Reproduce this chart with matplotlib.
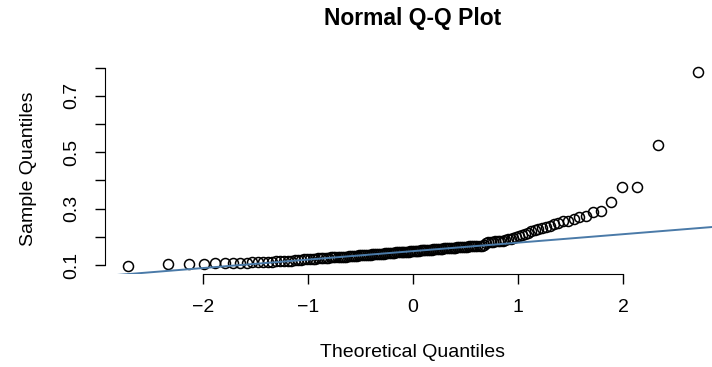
import numpy as np
import matplotlib
matplotlib.use('Agg')
import matplotlib.pyplot as plt
from statistics import NormalDist

plt.rcParams['font.family'] = ['Liberation Sans', 'DejaVu Sans']

# sorted sample values (150 points)
sample = [
    0.096, 0.103, 0.104, 0.105, 0.106, 0.107, 0.108, 0.108, 0.109, 0.110,
    0.110, 0.111, 0.112, 0.112, 0.113, 0.114, 0.114, 0.115, 0.116, 0.117,
    0.118, 0.119, 0.120, 0.121, 0.122, 0.123, 0.123, 0.124, 0.125, 0.125,
    0.126, 0.126, 0.127, 0.127, 0.128, 0.128, 0.129, 0.129, 0.130, 0.130,
    0.131, 0.131, 0.132, 0.133, 0.133, 0.134, 0.134, 0.135, 0.136, 0.136,
    0.137, 0.137, 0.138, 0.138, 0.139, 0.139, 0.140, 0.141, 0.141, 0.142,
    0.142, 0.143, 0.143, 0.144, 0.144, 0.145, 0.145, 0.146, 0.146, 0.147,
    0.147, 0.148, 0.148, 0.149, 0.149, 0.150, 0.150, 0.151, 0.151, 0.152,
    0.152, 0.153, 0.153, 0.154, 0.155, 0.155, 0.156, 0.156, 0.157, 0.157,
    0.158, 0.158, 0.159, 0.159, 0.160, 0.161, 0.161, 0.162, 0.162, 0.163,
    0.163, 0.164, 0.164, 0.165, 0.165, 0.166, 0.166, 0.167, 0.167, 0.168,
    0.168, 0.169, 0.170, 0.180, 0.181, 0.182, 0.183, 0.184, 0.185, 0.186,
    0.187, 0.189, 0.191, 0.193, 0.196, 0.199, 0.203, 0.206, 0.210, 0.215,
    0.220, 0.224, 0.228, 0.232, 0.236, 0.240, 0.245, 0.250, 0.255, 0.258,
    0.265, 0.270, 0.275, 0.288, 0.290, 0.323, 0.376, 0.376, 0.524, 0.785,
]
xticks = [-2, -1, 0, 1, 2]
yticks = [0.1, 0.2, 0.3, 0.4, 0.5, 0.6, 0.7, 0.8]
ylabels = ['0.1', '', '0.3', '', '0.5', '', '0.7', '']

y = np.array(sample)
n = len(y)
nd = NormalDist()
# R ppoints for n > 10
theo = np.array([nd.inv_cdf((i + 0.5) / n) for i in range(n)])

# qqline through the quartiles
q1, q3 = np.quantile(y, [0.25, 0.75])
z1, z3 = nd.inv_cdf(0.25), nd.inv_cdf(0.75)
slope = (q3 - q1) / (z3 - z1)
inter = q1 - slope * z1

fig = plt.figure(figsize=(7.12, 3.67), dpi=100)
ax = fig.add_axes([105/712, 93/367, 616/712, 210/367])

ax.plot(theo, y, 'o', mfc='none', mec='black', ms=7.2, mew=1.1, zorder=2)
xl = np.array([-4, 4])
ax.plot(xl, inter + slope * xl, color='#4a7aa8', lw=1.4, zorder=3)

rx = theo.max() - theo.min()
ry = y.max() - y.min()
ax.set_xlim(theo.min() - 0.04*rx, theo.max() + 0.04*rx)
ax.set_ylim(y.min() - 0.04*ry, y.max() + 0.04*ry)

for s in ['top', 'right']:
    ax.spines[s].set_visible(False)
ax.spines['left'].set_bounds(0.1, 0.8)
ax.spines['bottom'].set_bounds(-2, 2)
ax.set_xticks(xticks)
ax.set_yticks(yticks)
ax.set_yticklabels(ylabels, rotation=90, va='center')
ax.tick_params(length=7, width=1, labelsize=14, pad=11)

ax.set_title('Normal Q-Q Plot', fontsize=16.5, fontweight='bold', pad=28)
ax.set_xlabel('Theoretical Quantiles', fontsize=14, labelpad=20)
ax.set_ylabel('Sample Quantiles', fontsize=14, labelpad=19)

plt.savefig('out.png', dpi=100)
